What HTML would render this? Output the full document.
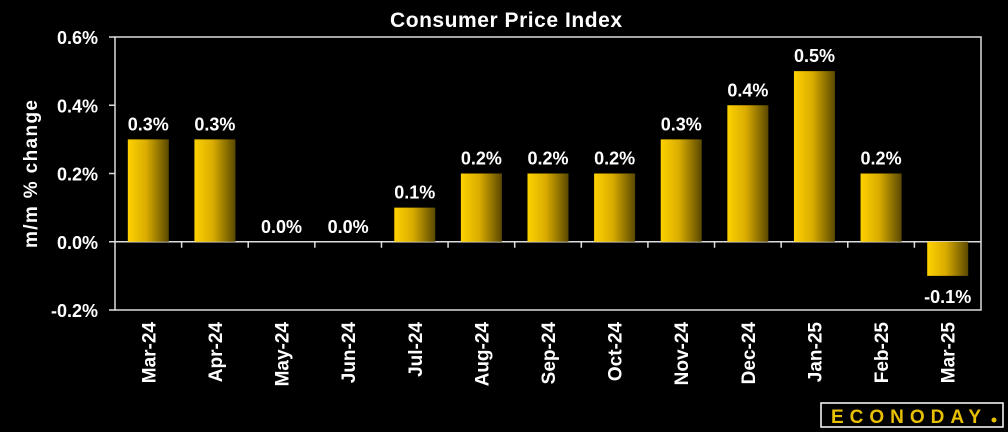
<!DOCTYPE html>
<html><head><meta charset="utf-8"><style>
body{margin:0;background:#000;}
svg{display:block;font-family:"Liberation Sans",sans-serif;font-weight:bold;}
</style></head><body>
<svg id="chart" width="1008" height="432" viewBox="0 0 1008 432">
<defs><linearGradient id="g" x1="0" x2="1" y1="0" y2="0"><stop offset="0" stop-color="#ffd200"/><stop offset="0.45" stop-color="#d9ac00"/><stop offset="1" stop-color="#5a4800"/></linearGradient></defs>
<rect width="1008" height="432" fill="#000"/>
<text x="506" y="27" fill="#fff" font-size="21" text-anchor="middle" textLength="232">Consumer Price Index</text>
<text transform="translate(37,174) rotate(-90)" fill="#fff" font-size="19" text-anchor="middle" textLength="148">m/m % change</text>
<g id="axes"></g><g id="bars"></g>
<g>
<rect x="821" y="403" width="182" height="24" fill="#000" stroke="#fff" stroke-width="1.5"/>
<text x="906" y="423" fill="#e8c000" font-size="19" text-anchor="middle" textLength="150" font-weight="bold">ECONODAY</text>
<circle cx="994" cy="420" r="2.5" fill="#e8c000"/>
</g>
</svg>
<script>
const categories=["Mar-24","Apr-24","May-24","Jun-24","Jul-24","Aug-24","Sep-24","Oct-24","Nov-24","Dec-24","Jan-25","Feb-25","Mar-25"];
const values=[0.3,0.3,0.0,0.0,0.1,0.2,0.2,0.2,0.3,0.4,0.5,0.2,-0.1];
const yTicks=[0.6,0.4,0.2,0.0,-0.2];
const NS="http://www.w3.org/2000/svg";
const L=115,R=981,T=37,B=310,ymax=0.6,ymin=-0.2;
const y=v=>T+(ymax-v)/(ymax-ymin)*(B-T);
const step=(R-L)/categories.length;
const x=i=>L+step*(i+0.5);
function mk(tag,attrs,parent){const e=document.createElementNS(NS,tag);for(const k in attrs)e.setAttribute(k,attrs[k]);parent.appendChild(e);return e;}
const ax=document.getElementById('axes'),bg=document.getElementById('bars');
let f=mk('rect',{x:L,y:T,width:R-L,height:B-T,fill:'none',stroke:'#ddd','stroke-width':1.5},ax);


yTicks.forEach(v=>{
 const t=mk('line',{x1:L-6,x2:L,y1:y(v),y2:y(v),stroke:'#ddd','stroke-width':1.5},ax);
 
 
 const l=mk('text',{x:98,y:y(v)+7,fill:'#fff','font-size':18,'text-anchor':'end'},ax);
 l.textContent=v.toFixed(1)+'%';
 
 
});
const z=mk('line',{x1:L,x2:R,y1:y(0),y2:y(0),stroke:'#ddd','stroke-width':1.5},ax);


for(let i=1;i<categories.length;i++){
 const t=mk('line',{x1:L+step*i,x2:L+step*i,y1:y(0),y2:y(0)+6,stroke:'#ddd','stroke-width':1.5},ax);
 
 
}
categories.forEach((c,i)=>{
 const v=values[i],cx=x(i),bw=41;
 const y0=y(0),yv=y(v);
 if(v!==0){
  const b=mk('rect',{x:cx-bw/2,y:Math.min(y0,yv),width:bw,height:Math.abs(yv-y0),fill:'url(#g)'},bg);
  
  
 }
 const ly=v<0?yv+27:yv-9;
 const vl=mk('text',{x:cx,y:ly,fill:'#fff','font-size':18,'text-anchor':'middle'},bg);
 vl.textContent=v.toFixed(1)+'%';
 
 
 const cl=mk('text',{transform:`translate(${cx+7},322) rotate(-90)`,fill:'#fff','font-size':19,'text-anchor':'end'},bg);
 cl.textContent=c;
 
 
});
</script>
</body></html>
